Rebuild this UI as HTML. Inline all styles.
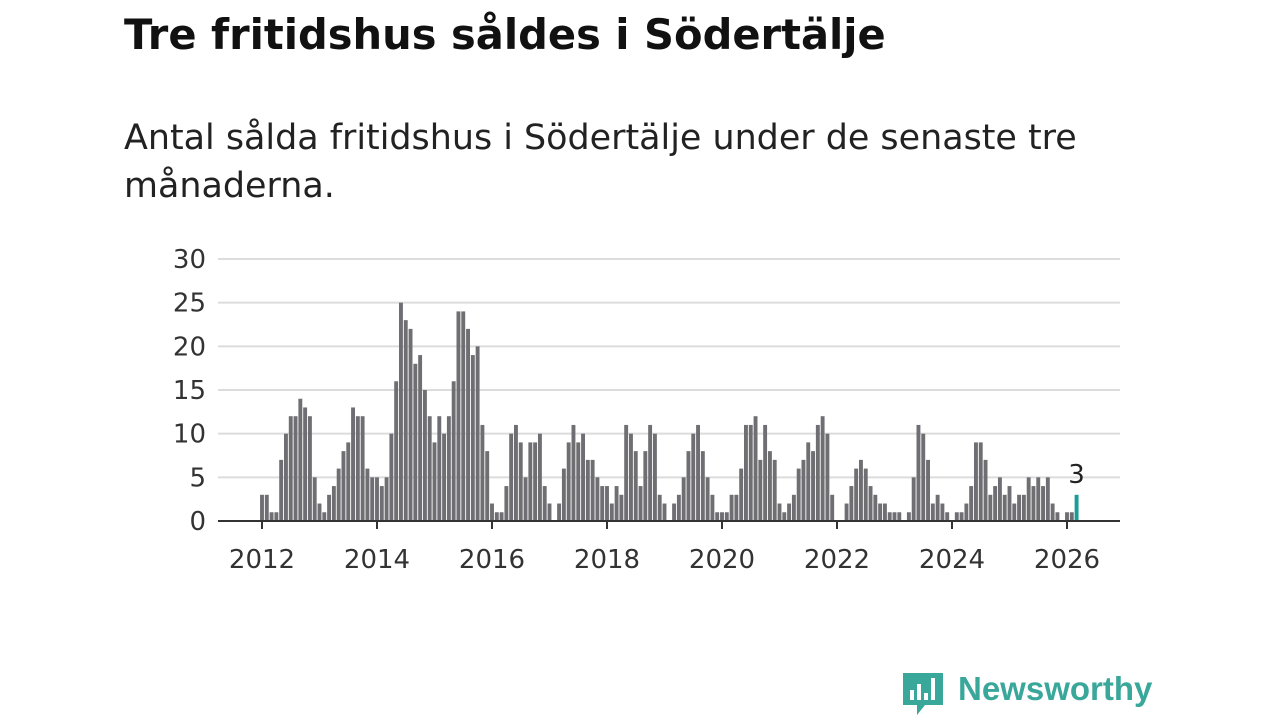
<!DOCTYPE html>
<html><head><meta charset="utf-8"><style>
body{margin:0;width:1280px;height:720px;background:#fff;font-family:"DejaVu Sans","Liberation Sans",sans-serif;overflow:hidden;position:relative}
h1{position:absolute;left:124px;top:10px;margin:0;font-size:38px;font-weight:bold;color:#111;white-space:nowrap;line-height:50px}
p.sub{position:absolute;left:124px;top:114px;margin:0;font-size:32px;line-height:48px;color:#222;white-space:nowrap}
svg{position:absolute;left:0;top:0}
.logo{position:absolute;left:958px;top:670px;font-size:33px;font-weight:bold;color:#3aa79b;font-family:"Liberation Sans",sans-serif}
</style></head><body>
<h1 id="title">Tre fritidshus såldes i Södertälje</h1>
<p class="sub"><span id="sub1">Antal sålda fritidshus i Södertälje under de senaste tre</span><br>månaderna.</p>
<svg width="1280" height="720" id="chart"></svg>
<svg width="1280" height="720" style="pointer-events:none">
<path d="M903 673 h40 v32 h-18 l-8 10 v-10 h-14 z" fill="#3aa79b"/>
<rect x="910" y="690" width="4" height="10" fill="#fff"/><rect x="917" y="684" width="4" height="16" fill="#fff"/><rect x="924" y="693" width="4" height="7" fill="#fff"/><rect x="931" y="678" width="4" height="22" fill="#fff"/>
</svg>
<div class="logo">Newsworthy</div>
<script>
const startYear = 2012;
const values = [3,3,1,1,7,10,12,12,14,13,12,5,
2,1,3,4,6,8,9,13,12,12,6,5,
5,4,5,10,16,25,23,22,18,19,15,12,
9,12,10,12,16,24,24,22,19,20,11,8,
2,1,1,4,10,11,9,5,9,9,10,4,
2,0,2,6,9,11,9,10,7,7,5,4,
4,2,4,3,11,10,8,4,8,11,10,3,
2,0,2,3,5,8,10,11,8,5,3,1,
1,1,3,3,6,11,11,12,7,11,8,7,
2,1,2,3,6,7,9,8,11,12,10,3,
0,0,2,4,6,7,6,4,3,2,2,1,
1,1,0,1,5,11,10,7,2,3,2,1,
0,1,1,2,4,9,9,7,3,4,5,3,
4,2,3,3,5,4,5,4,5,2,1,0,
1,1,3];
const yTicks = [0,5,10,15,20,25,30];
const xTicks = [2012,2014,2016,2018,2020,2022,2024,2026];
(function(){
  const t=document.getElementById('title');
  const w=t.getBoundingClientRect().width; t.style.fontSize=(38*762/w)+'px';
  const s=document.getElementById('sub1'); const p=s.parentNode;
  const w2=s.getBoundingClientRect().width; p.style.fontSize=(32*953/w2)+'px';
})();
const svg = document.getElementById('chart');
const NS = 'http://www.w3.org/2000/svg';
const x0 = 262, pxYear = 57.5, yBase = 521, pxUnit = 8.733;
const xs = t => x0 + (t - startYear) * pxYear;
const ys = v => yBase - v * pxUnit;
const FF='DejaVu Sans, Liberation Sans, sans-serif';
function mk(tag, a){const e=document.createElementNS(NS,tag);for(const k in a)e.setAttribute(k,a[k]);svg.appendChild(e);return e;}
yTicks.forEach(v=>{
  if(v>0){const g=mk('line',{x1:218,x2:1120,y1:ys(v),y2:ys(v),stroke:'#dcdcdc','stroke-width':2});
  
  }
  const t=mk('text',{x:206,y:ys(v)+9,'text-anchor':'end','font-size':26,fill:'#333','font-family':FF});
  t.textContent=v;
  
  
});
values.forEach((v,i)=>{
  const t=startYear+i/12;
  const last=i===values.length-1;
  const r=mk('rect',{x:xs(t)-1.95,y:ys(v),width:3.9,height:v*pxUnit,fill:last?'#1a9c97':'#6e6e73'});
  
  
  if(last){const l=mk('text',{x:xs(t),y:ys(v)-12,'text-anchor':'middle','font-size':26,fill:'#222','font-family':FF});
  l.textContent=v;
  
  }
});
const ax=mk('line',{x1:218,x2:1120,y1:yBase,y2:yBase,stroke:'#333','stroke-width':2});


xTicks.forEach(y=>{
  const tk=mk('line',{x1:xs(y),x2:xs(y),y1:yBase,y2:yBase+8,stroke:'#333','stroke-width':2});
  
  
  const t=mk('text',{x:xs(y),y:568,'text-anchor':'middle','font-size':26,fill:'#333','font-family':FF});
  t.textContent=y;
  
  
});
</script>
</body></html>
